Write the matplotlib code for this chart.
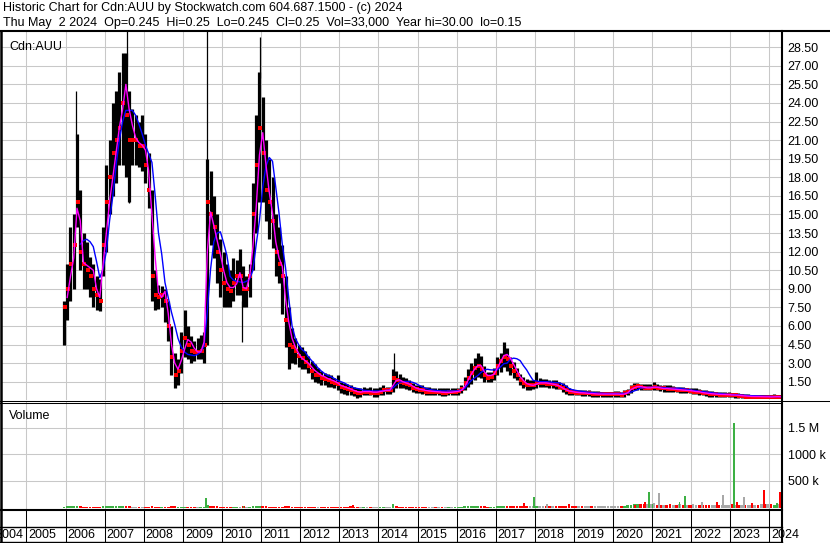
import numpy as np
import matplotlib
matplotlib.use('Agg')
import matplotlib.pyplot as plt
from matplotlib.lines import Line2D
from matplotlib import transforms

plt.rcParams['font.family'] = ['Liberation Sans', 'DejaVu Sans']

# monthly bars, Dec 2005 .. Apr 2024 (one row per year)
hi = [8.0,
      11, 14, 15, 21.5, 17, 13.5, 12.8, 11.6, 11, 10, 9.8, 14,
      19, 21, 24, 25, 26.5, 28, 28, 25, 23.5, 23, 22.5, 23,
      21.5, 20, 17, 10.5, 9.3, 9.2, 9.0, 8, 6, 3.8, 3.3, 5.5,
      7.3, 6, 5.2, 4.8, 5.0, 5.3, 5.5, 19.5, 18.5, 16.5, 15, 13,
      12, 11, 10.5, 11.5, 11.3, 12.2, 10.8, 10, 11, 17.5, 23, 26.5,
      24.5, 21, 19.5, 18, 15, 14, 12.5, 10, 7.5, 5.8, 5.0, 4.5,
      4.3, 4.0, 3.6, 3.2, 2.9, 2.6, 2.4, 2.2, 2.1, 2.0, 1.8, 2.0,
      1.5, 1.4, 1.3, 1.2, 1.1, 1.0, 1.0, 1.1, 1.0, 1.1, 1.0, 1.0,
      1.1, 1.2, 1.1, 1.1, 2.5, 2.4, 2.1, 1.9, 1.8, 1.6, 1.4, 1.2,
      1.2, 1.2, 1.1, 1.1, 1.0, 1.0, 1.0, 0.95, 0.95, 0.95, 1.0, 1.0,
      1.0, 1.2, 1.9, 2.5, 3.0, 3.4, 3.8, 3.6, 2.8, 2.3, 2.3, 2.6,
      3.5, 3.8, 4.7, 4.2, 3.5, 3.1, 2.6, 2.1, 1.9, 1.7, 1.6, 1.6,
      2.3, 1.8, 1.7, 1.7, 1.6, 1.6, 1.6, 1.5, 1.4, 1.2, 1.0, 0.9,
      0.85, 0.85, 0.8, 0.8, 0.8, 0.75, 0.75, 0.75, 0.7, 0.7, 0.7, 0.7,
      0.75, 0.75, 0.7, 0.8, 0.9, 1.2, 1.4, 1.4, 1.35, 1.3, 1.3, 1.3,
      1.5, 1.3, 1.25, 1.2, 1.2, 1.2, 1.15, 1.1, 1.1, 1.05, 1.0, 1.0,
      0.95, 0.95, 0.9, 0.85, 0.8, 0.75, 0.75, 0.7, 0.7, 0.7, 0.65, 0.65,
      0.6, 0.6, 0.55, 0.5, 0.5, 0.5, 0.45, 0.45, 0.45, 0.45, 0.4, 0.4,
      0.4, 0.5, 0.45, 0.3]
lo = [4.5,
      6.5, 8, 9, 14, 10.5, 9, 9.0, 8.3, 7.5, 7.3, 7.2, 10,
      12, 15, 16.5, 17.5, 19, 19, 18, 16, 19, 19, 18.8, 18.5,
      17.5, 15.5, 8, 7.3, 7.4, 7.5, 6.3, 4.8, 2, 1.0, 1.2, 2.2,
      3.5, 3.3, 3.0, 3.2, 3.3, 3.3, 3.0, 4.5, 12.5, 11.5, 9.5, 8.3,
      7.5, 7.5, 7.5, 8, 8.5, 8.5, 7.5, 7.5, 8.3, 10.5, 13.5, 16,
      16, 14.5, 13, 12.3, 10, 9.5, 7, 4.3, 2.5, 3.0, 2.9, 2.7,
      2.5, 2.5, 2.2, 1.7, 1.5, 1.4, 1.2, 1.2, 1.1, 1.1, 1.0, 0.8,
      0.6, 0.5, 0.4, 0.4, 0.35, 0.2, 0.3, 0.4, 0.4, 0.4, 0.3, 0.3,
      0.4, 0.4, 0.5, 0.5, 0.7, 1.0, 1.0, 1.0, 0.9, 0.8, 0.7, 0.6,
      0.55, 0.5, 0.45, 0.4, 0.4, 0.4, 0.4, 0.35, 0.35, 0.4, 0.4, 0.45,
      0.45, 0.6, 0.8, 1.1, 1.3, 1.6, 1.9, 1.8, 1.5, 1.5, 1.5, 1.6,
      2.0, 2.3, 2.7, 2.4, 2.0, 1.8, 1.6, 1.2, 1.0, 0.8, 0.8, 0.9,
      1.0, 1.1, 1.1, 1.1, 1.0, 1.0, 0.9, 0.9, 0.7, 0.5, 0.45, 0.4,
      0.4, 0.4, 0.35, 0.35, 0.35, 0.3, 0.3, 0.3, 0.3, 0.3, 0.3, 0.3,
      0.3, 0.3, 0.25, 0.3, 0.4, 0.6, 0.8, 0.8, 0.8, 0.8, 0.8, 0.8,
      0.8, 0.8, 0.75, 0.7, 0.7, 0.7, 0.7, 0.65, 0.6, 0.6, 0.6, 0.55,
      0.5, 0.5, 0.45, 0.4, 0.35, 0.3, 0.3, 0.3, 0.3, 0.3, 0.25, 0.25,
      0.25, 0.2, 0.2, 0.2, 0.15, 0.15, 0.15, 0.15, 0.15, 0.15, 0.15, 0.15,
      0.15, 0.15, 0.2, 0.2]
close = [7.5,
         9, 11, 12.5, 16, 12, 11, 10.5, 10, 9, 8.5, 8, 12.5,
         16, 18, 20, 21, 22, 24, 23, 21, 21, 21, 20.5, 20.5,
         19, 17, 10, 8.5, 8.3, 8.5, 8, 6, 3.5, 2, 2.4, 4,
         5, 4.5, 4, 3.9, 3.9, 4, 4.5, 16, 15, 14, 12, 10.5,
         9.5, 9, 8.8, 9.5, 10, 10, 9, 9, 10, 15, 19, 22,
         20, 17, 16, 14.5, 12, 11, 10, 6.5, 4.5, 4.3, 4.0, 3.6,
         3.4, 3.1, 2.8, 2.4, 2.0, 2.0, 1.8, 1.7, 1.6, 1.5, 1.4, 1.3,
         1.1, 1.0, 0.9, 0.8, 0.7, 0.6, 0.6, 0.7, 0.7, 0.6, 0.6, 0.6,
         0.7, 0.8, 0.8, 0.8, 1.8, 1.6, 1.5, 1.4, 1.3, 1.2, 1.0, 0.9,
         0.85, 0.8, 0.7, 0.7, 0.7, 0.65, 0.65, 0.6, 0.6, 0.65, 0.65, 0.7,
         0.75, 0.9, 1.4, 1.8, 2.2, 2.6, 2.8, 2.5, 2.0, 1.8, 1.9, 2.2,
         2.8, 3.2, 3.5, 3.3, 2.8, 2.4, 2.0, 1.6, 1.4, 1.2, 1.2, 1.2,
         1.4, 1.4, 1.4, 1.35, 1.3, 1.3, 1.2, 1.1, 0.95, 0.8, 0.7, 0.65,
         0.6, 0.6, 0.55, 0.55, 0.55, 0.5, 0.5, 0.5, 0.5, 0.5, 0.5, 0.5,
         0.5, 0.5, 0.45, 0.55, 0.7, 0.95, 1.1, 1.15, 1.05, 1.0, 1.0, 1.0,
         1.05, 1.0, 0.95, 0.95, 0.9, 0.9, 0.9, 0.85, 0.85, 0.8, 0.8, 0.75,
         0.7, 0.7, 0.65, 0.6, 0.55, 0.5, 0.5, 0.5, 0.45, 0.45, 0.45, 0.45,
         0.4, 0.4, 0.35, 0.35, 0.3, 0.3, 0.3, 0.3, 0.28, 0.28, 0.27, 0.27,
         0.25, 0.3, 0.3, 0.25]
ma_fast = [np.nan,
           8.3, 10, 11.5, 15.5, 14.5, 11.1, 10.9, 10.7, 10.5, 9.0, 8.3, 11,
           13.5, 16, 18, 20, 22, 23.5, 25.5, 23.5, 22.2, 21.2, 20.8, 20.6,
           20.2, 18.5, 15, 11.5, 8.7, 8.3, 8.8, 7.0, 4.5, 3.0, 2.5, 3.2,
           4.1, 4.9, 4.7, 4.2, 3.9, 3.9, 4.7, 12, 15.2, 14.1, 12.9, 11.8,
           10.5, 9.5, 9.1, 9.1, 9.4, 10.3, 9.1, 9.0, 10, 12.4, 15.6, 19.8,
           21.6, 19.0, 16.8, 15.1, 12.8, 11.5, 10.8, 8.2, 6.3, 5.0, 4.3, 3.8,
           3.4, 3.2, 3.0, 2.7, 2.4, 2.2, 2.0, 1.9, 1.75, 1.65, 1.55, 1.4,
           1.2, 1.1, 1.0, 0.9, 0.8, 0.7, 0.65, 0.7, 0.7, 0.7, 0.65, 0.65,
           0.7, 0.75, 0.8, 0.8, 1.2, 1.6, 1.65, 1.5, 1.4, 1.3, 1.15, 1.0,
           0.9, 0.85, 0.8, 0.75, 0.72, 0.7, 0.68, 0.65, 0.63, 0.63, 0.65, 0.68,
           0.72, 0.8, 1.1, 1.6, 2.1, 2.5, 2.8, 2.8, 2.3, 2.0, 2.0, 2.1,
           2.6, 3.1, 3.6, 3.7, 3.4, 2.9, 2.4, 1.9, 1.6, 1.35, 1.25, 1.2,
           1.3, 1.4, 1.4, 1.4, 1.35, 1.3, 1.25, 1.15, 1.0, 0.85, 0.75, 0.7,
           0.65, 0.62, 0.6, 0.58, 0.55, 0.55, 0.52, 0.5, 0.5, 0.5, 0.5, 0.5,
           0.5, 0.5, 0.48, 0.5, 0.6, 0.85, 1.0, 1.1, 1.1, 1.05, 1.0, 1.0,
           1.05, 1.05, 1.0, 0.95, 0.95, 0.92, 0.9, 0.88, 0.85, 0.82, 0.8, 0.78,
           0.75, 0.7, 0.68, 0.62, 0.58, 0.55, 0.52, 0.5, 0.48, 0.47, 0.46, 0.45,
           0.43, 0.42, 0.4, 0.37, 0.35, 0.33, 0.31, 0.3, 0.3, 0.29, 0.28, 0.28,
           0.27, 0.28, 0.29, 0.28]
ma_slow = [np.nan,
           np.nan, np.nan, np.nan, np.nan, 12.6, 12.9, 13.0, 12.8, 12.4, 11.2, 9.9, 10.6,
           12.0, 14.5, 16.5, 19, 21, 22.5, 23.4, 23.4, 23.4, 23.0, 22.3, 21.5,
           20.6, 19.9, 19.2, 16.5, 13.5, 11.8, 9.5, 8.3, 7.1, 6.1, 5.0, 4.3,
           3.9, 3.7, 3.65, 3.6, 3.7, 3.9, 4.4, 7.2, 10.6, 12.8, 13.5, 13.6,
           12.7, 11.7, 10.0, 9.7, 9.6, 9.55, 9.5, 9.6, 9.8, 10.5, 12.6, 14.5,
           17.2, 18.9, 19.6, 19.3, 17.2, 15.1, 12.6, 10.7, 8.2, 6.0, 5.0, 4.5,
           4.1, 3.9, 3.5, 3.2, 2.9, 2.6, 2.35, 2.15, 2.0, 1.9, 1.75, 1.6,
           1.5, 1.4, 1.25, 1.1, 1.0, 0.95, 0.9, 0.8, 0.78, 0.75, 0.75, 0.75,
           0.75, 0.77, 0.8, 0.83, 1.0, 1.25, 1.45, 1.5, 1.52, 1.5, 1.45, 1.35,
           1.2, 1.07, 0.97, 0.9, 0.83, 0.8, 0.77, 0.75, 0.75, 0.75, 0.75, 0.75,
           0.78, 0.85, 0.95, 1.3, 1.6, 1.8, 2.0, 2.25, 2.45, 2.5, 2.45, 2.45,
           2.45, 2.7, 2.95, 3.0, 3.3, 3.4, 3.35, 3.2, 2.8, 2.45, 2.0, 1.6,
           1.55, 1.5, 1.5, 1.5, 1.48, 1.45, 1.42, 1.4, 1.3, 1.15, 0.95, 0.85,
           0.8, 0.75, 0.72, 0.68, 0.65, 0.62, 0.6, 0.58, 0.57, 0.55, 0.55, 0.55,
           0.55, 0.55, 0.55, 0.55, 0.58, 0.65, 0.75, 0.85, 1.0, 1.0, 1.05, 1.05,
           1.05, 1.05, 1.05, 1.02, 1.0, 0.98, 0.97, 0.97, 0.97, 0.93, 0.9, 0.85,
           0.8, 0.78, 0.72, 0.7, 0.68, 0.64, 0.6, 0.57, 0.55, 0.53, 0.5, 0.48,
           0.46, 0.45, 0.43, 0.42, 0.4, 0.38, 0.37, 0.36, 0.35, 0.34, 0.33, 0.32,
           0.31, 0.3, 0.3, 0.3]
# typical daily volume per month, thousands
volume = [10,
          20, 20, 25, 30, 20, 15, 15, 15, 15, 15, 15, 20,
          20, 20, 20, 20, 20, 20, 25, 20, 15, 15, 15, 15,
          15, 15, 20, 15, 15, 15, 15, 15, 20, 20, 15, 15,
          15, 15, 15, 15, 15, 15, 15, 40, 25, 20, 20, 15,
          15, 15, 15, 15, 15, 15, 20, 15, 15, 25, 25, 25,
          20, 20, 15, 15, 15, 15, 15, 20, 20, 15, 15, 15,
          15, 15, 15, 15, 15, 15, 15, 15, 15, 15, 15, 15,
          15, 15, 15, 25, 15, 15, 15, 15, 15, 15, 15, 15,
          15, 15, 15, 15, 30, 20, 15, 15, 15, 15, 15, 15,
          15, 15, 15, 15, 15, 15, 15, 15, 15, 15, 15, 15,
          15, 15, 20, 25, 25, 25, 25, 20, 20, 15, 15, 15,
          20, 20, 25, 20, 20, 20, 20, 25, 30, 35, 30, 30,
          30, 35, 30, 30, 30, 25, 25, 25, 25, 30, 30, 25,
          20, 20, 20, 20, 20, 20, 20, 20, 20, 20, 25, 25,
          25, 25, 30, 30, 40, 50, 60, 60, 60, 60, 60, 60,
          60, 55, 50, 50, 45, 45, 45, 50, 60, 50, 45, 45,
          45, 45, 50, 50, 50, 55, 50, 50, 50, 50, 50, 55,
          60, 55, 50, 50, 55, 50, 55, 55, 55, 60, 60, 60,
          60, 55, 60, 55]

# single-day extremes
spike_t = [2006.27, 2007.57, 2009.61, 2010.97, 2014.40, 2010.50, 2007.62]
spike_from = [21, 27, 19, 26, 2.4, 8.0, 19]
spike_to = [25.0, 30.0, 30.0, 29.3, 3.8, 4.7, 15.9]

# notable single-day volumes (thousands)
vspike_t = [2009.58, 2010.55, 2013.34, 2014.38, 2017.72, 2017.97, 2018.32, 2018.87,
            2020.56, 2020.81, 2020.92, 2021.05, 2021.18, 2021.45, 2021.70, 2021.84,
            2022.05, 2022.28, 2022.66, 2022.81, 2023.09, 2023.17, 2023.36, 2023.55,
            2023.85, 2023.95, 2024.20, 2024.28]
vspike_v = [170, 35, 45, 65, 80, 207, 70, 60,
            50, 110, 293, 90, 275, 60, 100, 213,
            70, 110, 100, 244, 1600, 100, 200, 80,
            335, 60, 80, 290]
vspike_c = ['g', 'g', 'r', 'g', 'r', 'g', 'k', 'r',
            'r', 'r', 'g', 'k', 'k', 'r', 'g', 'g',
            'k', 'k', 'r', 'k', 'g', 'r', 'k', 'r',
            'r', 'k', 'g', 'r']

price_ticks = [1.5 * i for i in range(1, 20)]
vol_ticks = [500000, 1000000, 1500000]
vol_labels = ['500 k', '1000 k', '1.5 M']
years = list(range(2004, 2025))

W, H = 830, 543
fig = plt.figure(figsize=(W / 100, H / 100), dpi=100)
fig.patch.set_facecolor('white')


def frac(x0, y0, x1, y1):
    # pixel box (top-left origin) -> figure fraction rect
    return [x0 / W, 1 - y1 / H, (x1 - x0) / W, (y1 - y0) / H]


def hline(y, x0, x1, lw=0.75):
    fig.add_artist(Line2D([x0 / W, x1 / W], [1 - y / H, 1 - y / H], color='black', lw=lw))


def vline(x, y0, y1, lw=0.75):
    fig.add_artist(Line2D([x / W, x / W], [1 - y0 / H, 1 - y1 / H], color='black', lw=lw))


t = np.array([2005 + 11.5 / 12 + i / 12 for i in range(len(close))])
XLIM = (2004.348, 2024.322)
grid_col = '#c8c8c8'

ax = fig.add_axes(frac(1, 32, 782, 400))
ax2 = fig.add_axes(frac(1, 402, 782, 510))

for a in (ax, ax2):
    a.set_xlim(*XLIM)
    a.set_xticks(range(2005, 2025))
    a.tick_params(axis='x', length=0, labelbottom=False)
    a.yaxis.tick_right()
    a.tick_params(axis='y', length=0, pad=4, labelsize=9)
    a.grid(True, color=grid_col, lw=0.75)
    a.set_axisbelow(True)
    for s in a.spines.values():
        s.set_visible(False)

# price panel
ax.set_ylim(0.02, 29.73)
ax.set_yticks(price_ticks)
ax.set_yticklabels([f'{v:.2f}' for v in price_ticks])
ax.vlines(t, lo, hi, color='black', lw=2.3)
ax.vlines(spike_t, spike_from, spike_to, color='black', lw=0.9)
ax.plot(t + 0.02, close, 's', color='red', ms=2.2, mew=0)
ax.plot(t, ma_slow, color='#0000ff', lw=1.0)
ax.plot(t, ma_fast, color='#ff00ff', lw=1.0)
ax.text(8 / 781, 0.975, 'Cdn:AUU', transform=ax.transAxes, fontsize=9, va='top', ha='left')

# volume panel
cmap = {'g': '#3cb043', 'r': '#ff0000', 'k': '#a8a8a8'}
vcol = [cmap['g']] + [cmap['g'] if c1 > c0 else cmap['r'] if c1 < c0 else cmap['k']
                      for c0, c1 in zip(close[:-1], close[1:])]
ax2.set_ylim(-47000, 1990000)
ax2.set_yticks(vol_ticks)
ax2.set_yticklabels(vol_labels)
ax2.bar(t, np.array(volume) * 1000, width=0.07, color=vcol, lw=0)
ax2.bar(vspike_t, np.array(vspike_v) * 1000, width=0.05, color=[cmap[c] for c in vspike_c], lw=0)
ax2.text(8 / 781, 0.93, 'Volume', transform=ax2.transAxes, fontsize=9, va='top', ha='left')

# header
fig.text(3 / W, 1 - 8 / H, 'Historic Chart for Cdn:AUU by Stockwatch.com 604.687.1500 - (c) 2024',
         fontsize=9, va='center', ha='left')
fig.text(3 / W, 1 - 23 / H,
         'Thu May  2 2024  Op=0.245  Hi=0.25  Lo=0.245  Cl=0.25  Vol=33,000  Year hi=30.00  lo=0.15',
         fontsize=9, va='center', ha='left')

# frame
hline(31, 0, W, lw=1.5)
hline(400.5, 0, W, lw=0.75)
hline(402.5, 0, 782, lw=0.75)
hline(510, 0, 782, lw=1.5)
hline(526.5, 0, 782, lw=1.0)
hline(542, 0, 782, lw=1.0)
vline(1, 31, 543, lw=1.8)
vline(782, 31, 543, lw=1.5)

# year row
blend = transforms.blended_transform_factory(ax2.transData, fig.transFigure)
txt_tr = transforms.offset_copy(blend, fig=fig, x=2, y=0, units='dots')
for yr in years[1:]:
    fig.add_artist(Line2D([yr, yr], [1 - 510 / H, 1 - 543 / H], transform=blend, color='black', lw=0.75))
    fig.text(yr, 1 - 535 / H, str(yr), transform=txt_tr, fontsize=9, va='center', ha='left')
left_tr = transforms.offset_copy(blend, fig=fig, x=-3, y=0, units='dots')
fig.text(2005, 1 - 535 / H, str(years[0]), transform=left_tr, fontsize=9, va='center', ha='right')

fig.savefig('out.png', dpi=100, facecolor='white')
